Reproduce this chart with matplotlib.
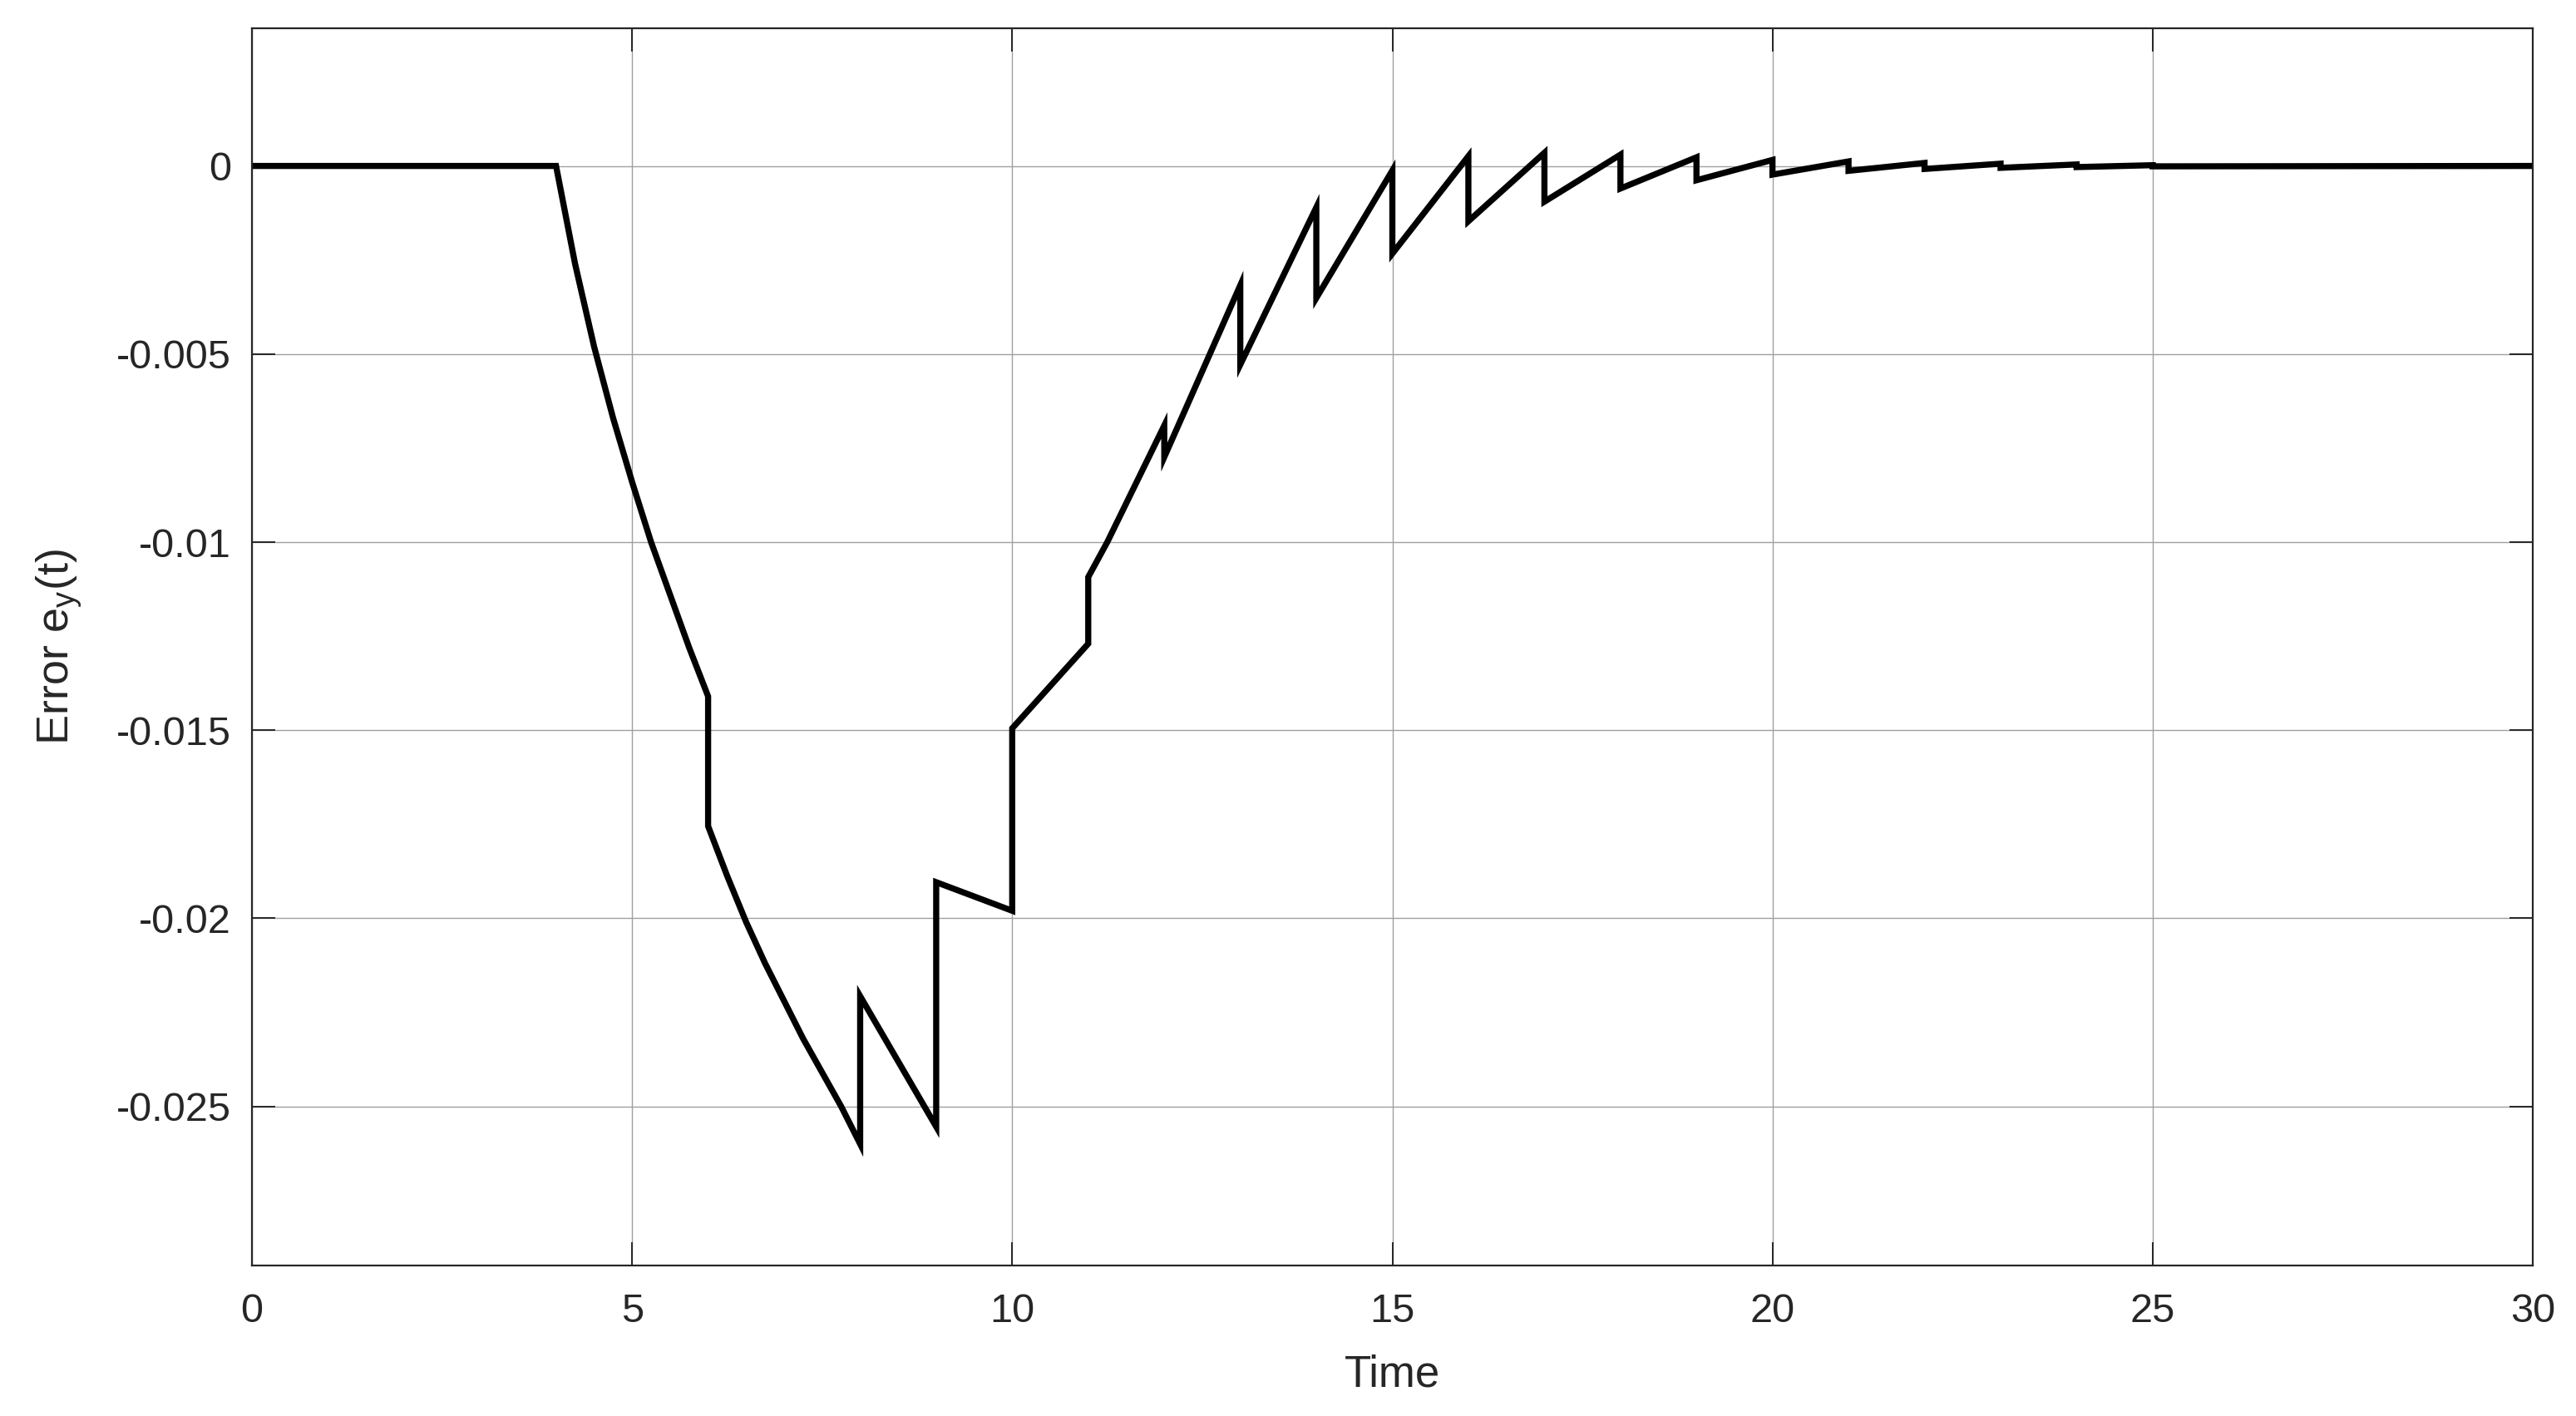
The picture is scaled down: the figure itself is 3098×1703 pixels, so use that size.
import matplotlib
matplotlib.use("Agg")
import matplotlib.pyplot as plt

plt.rcParams['font.family'] = ['Liberation Sans', 'DejaVu Sans']
plt.rcParams['mathtext.default'] = 'regular'

# Time samples (repeated times mark the discrete jumps)
time = [0, 4, 4.25, 4.5, 4.75, 5, 5.25, 5.5, 5.75, 6,
        6, 6.25, 6.5, 6.75, 7, 7.25, 7.5, 7.75, 8,
        8, 9,
        9, 10,
        10, 11,
        11, 11.25, 12,
        12, 13,
        13, 14,
        14, 15,
        15, 16,
        16, 17,
        17, 18,
        18, 19,
        19, 20,
        20, 21,
        21, 22,
        22, 23,
        23, 24,
        24, 25,
        25, 30]

# Error e_y(t)
error = [0, 0, -0.0026, -0.0048, -0.0067, -0.0084, -0.0100, -0.0114, -0.0128, -0.0141,
         -0.01755, -0.01887, -0.0201, -0.0212, -0.0222, -0.0232, -0.0241, -0.0250, -0.0260,
         -0.02207, -0.02554,
         -0.01904, -0.0198,
         -0.01495, -0.0127,
         -0.01093, -0.0100, -0.0069,
         -0.00774, -0.00317,
         -0.00528, -0.0011,
         -0.00351, -0.00012,
         -0.00233, 0.00026,
         -0.00147, 0.00035,
         -0.00095, 0.00030,
         -0.00060, 0.00023,
         -0.00038, 0.00016,
         -0.00023, 0.00012,
         -0.00013, 0.00008,
         -0.00008, 0.00006,
         -0.00005, 0.00004,
         -0.00003, 0.00002,
         -0.00001, 0.0]

x_ticks = [0, 5, 10, 15, 20, 25, 30]
y_ticks = [-0.025, -0.02, -0.015, -0.01, -0.005, 0]
y_tick_labels = ['-0.025', '-0.02', '-0.015', '-0.01', '-0.005', '0']

W, H = 3098, 1703
fig = plt.figure(figsize=(W / 100, H / 100), dpi=100)
ax = fig.add_axes([303 / W, 1 - 1522 / H, 2743 / W, 1488 / H])

ax.plot(time, error, color='black', linewidth=5.3, solid_joinstyle='miter')

ax.set_xlim(0, 30)
ax.set_ylim(-0.02923, 0.00366)
ax.set_xticks(x_ticks)
ax.set_xticklabels([str(v) for v in x_ticks])
ax.set_yticks(y_ticks)
ax.set_yticklabels(y_tick_labels)

ax.grid(True, color='#a0a0a0', linewidth=1.0)
ax.set_axisbelow(True)

for s in ax.spines.values():
    s.set_color('#262626')
    s.set_linewidth(1.6)

ax.tick_params(axis='both', direction='in', length=20, width=1.4, colors='#262626',
               labelsize=35, top=True, right=True)
ax.tick_params(axis='x', pad=24)
ax.tick_params(axis='y', pad=18)

ax.set_xlabel('Time', fontsize=38, color='#262626', labelpad=20)
ax.set_ylabel('Error $e_y$(t)', fontsize=39, color='#262626', labelpad=28)

fig.savefig('out.png', dpi=100)
